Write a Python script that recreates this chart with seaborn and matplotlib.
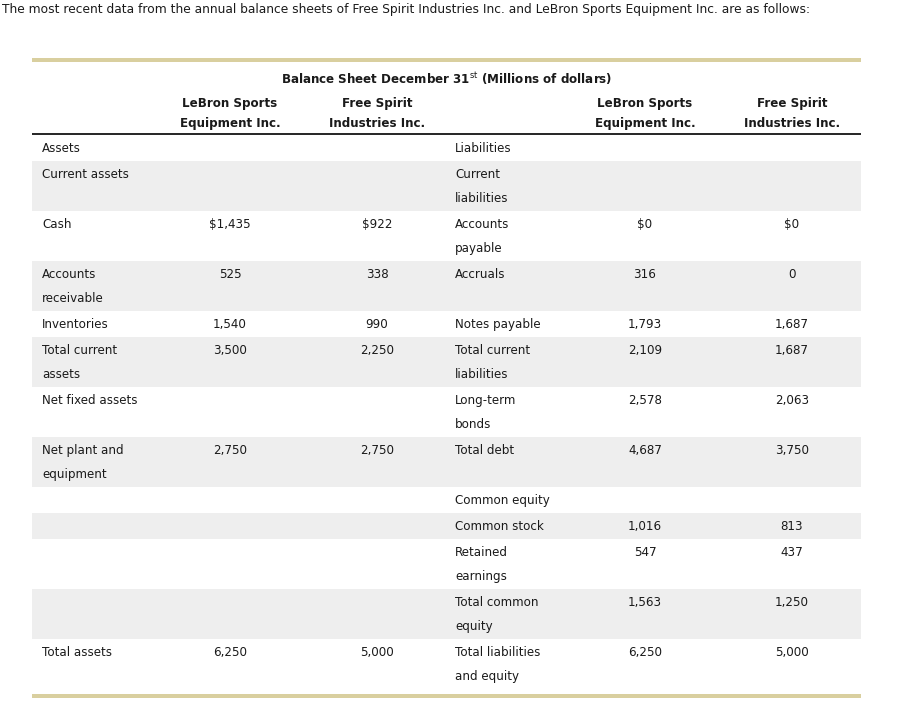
import matplotlib.pyplot as plt
import seaborn as sns

# table content (Millions of dollars)
left_labels = ["Assets", "Current assets", "Cash", "Accounts\nreceivable", "Inventories",
               "Total current\nassets", "Net fixed assets", "Net plant and\nequipment",
               "", "", "", "", "Total assets"]
lebron_assets = ["", "", "$1,435", "525", "1,540", "3,500", "", "2,750", "", "", "", "", "6,250"]
spirit_assets = ["", "", "$922", "338", "990", "2,250", "", "2,750", "", "", "", "", "5,000"]

right_labels = ["Liabilities", "Current\nliabilities", "Accounts\npayable", "Accruals",
                "Notes payable", "Total current\nliabilities", "Long-term\nbonds", "Total debt",
                "Common equity", "Common stock", "Retained\nearnings", "Total common\nequity",
                "Total liabilities\nand equity"]
lebron_liab = ["", "", "$0", "316", "1,793", "2,109", "2,578", "4,687", "", "1,016", "547", "1,563", "6,250"]
spirit_liab = ["", "", "$0", "0", "1,687", "1,687", "2,063", "3,750", "", "813", "437", "1,250", "5,000"]

companies = ["LeBron Sports\nEquipment Inc.", "Free Spirit\nIndustries Inc."]
title = "Balance Sheet December 31$^{\\rm st}$ (Millions of dollars)"
intro = ("The most recent data from the annual balance sheets of Free Spirit Industries Inc. "
         "and LeBron Sports Equipment Inc. are as follows:")

sns.set_theme(style="white")
plt.rcParams['font.family'] = ['DejaVu Sans']
txt = "#1a1a1a"
gold = "#D9CF9F"
shade = "#EEEEEE"

fig = plt.figure(figsize=(8.98, 7.13), dpi=100)
ax = fig.add_axes([0, 0, 1, 1])
ax.set_xlim(0, 898)
ax.set_ylim(713, 0)
ax.axis('off')

x0, x1 = 32, 861
col_x = [42, 230, 377, 455, 645, 792]
fs = 8.6

ax.text(2, 13, intro, fontsize=8.85, color=txt, va='baseline', ha='left')

# gold bands
ax.barh(60, x1 - x0, left=x0, height=4, color=gold, linewidth=0)
ax.text(447, 84, title, fontsize=fs, fontweight='bold', color=txt, ha='center', va='baseline')
for cx, name in zip([col_x[1], col_x[2], col_x[4], col_x[5]], companies * 2):
    for i, line in enumerate(name.split("\n")):
        ax.text(cx, 107 + 20 * i, line, fontsize=fs, fontweight='bold', color=txt,
                ha='center', va='baseline')
ax.hlines(134, x0, x1, color="black", linewidth=1.2)

top = 135
columns = [left_labels, lebron_assets, spirit_assets, right_labels, lebron_liab, spirit_liab]
for r in range(len(left_labels)):
    cells = [c[r] for c in columns]
    nlines = max(len(c.split("\n")) for c in cells)
    h = 24 * nlines + 2
    if r % 2 == 1:
        ax.barh(top + h / 2, x1 - x0, left=x0, height=h, color=shade, linewidth=0)
    for k, (cx, cell) in enumerate(zip(col_x, cells)):
        ha = 'left' if k in (0, 3) else 'center'
        for i, line in enumerate(cell.split("\n")):
            ax.text(cx, top + 17 + 24 * i, line, fontsize=fs, color=txt, ha=ha, va='baseline')
    top += h

ax.barh(top + 7, x1 - x0, left=x0, height=4, color=gold, linewidth=0)

fig.savefig("out.png", dpi=100)
